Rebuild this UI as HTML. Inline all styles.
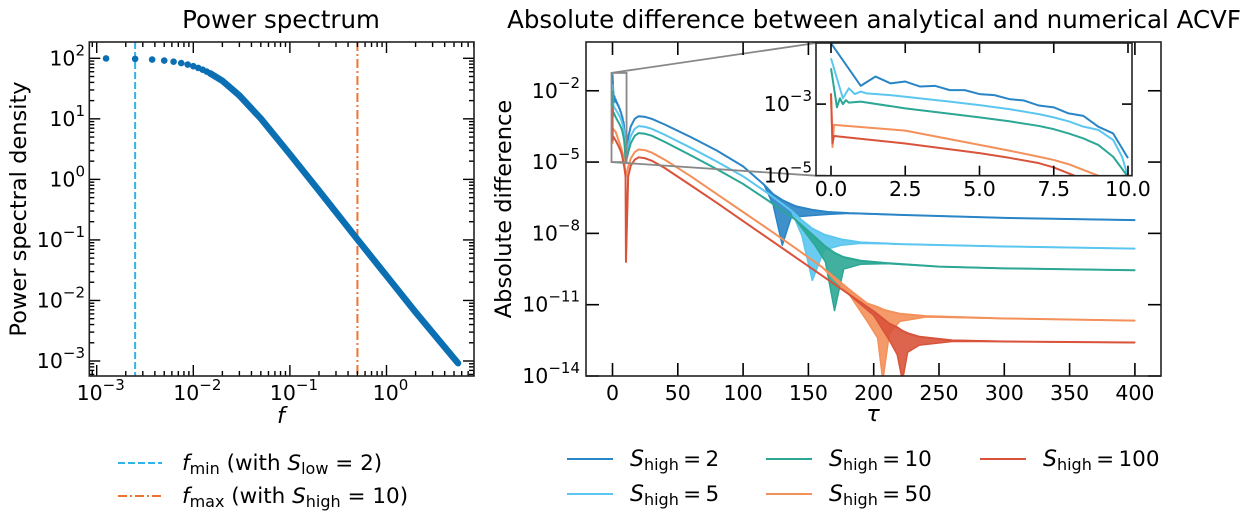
<!DOCTYPE html>
<html><head><meta charset="utf-8"><style>
body{margin:0;background:#fff;}
svg{display:block;font-family:"DejaVu Sans","Liberation Sans",sans-serif;}
</style></head><body>
<svg id="fig" width="1258" height="531" viewBox="0 0 1258 531" xmlns="http://www.w3.org/2000/svg">
<defs>
<clipPath id="clipL"><rect x="89.3" y="42" width="384.7" height="334"/></clipPath>
<clipPath id="clipR"><rect x="586" y="42" width="575" height="334"/></clipPath>
<clipPath id="clipI"><rect x="816" y="43" width="316" height="132.7"/></clipPath>
</defs>
<rect x="0" y="0" width="1258" height="531" fill="#fff"/>
<text x="281" y="28" font-size="24.5" text-anchor="middle">Power spectrum</text>
<text x="874" y="28" font-size="24.5" text-anchor="middle">Absolute difference between analytical and numerical ACVF</text>
<g id="L"></g>
<g id="R"></g>
<g id="I"></g>
<g id="LEG"></g>
</svg>
<script>
// ---------- Left chart data ----------
const freqDots=[0.00125,0.0025,0.00375,0.005,0.00625,0.0075,0.00875,0.01,0.01125,0.0125,0.01375,0.015];
const psdDots=[99.4,97.8,95.2,91.8,87.8,83.4,78.8,74,69.3,64.8,60.4,56.2];
const freqLine=[0.015,0.02,0.03,0.05,0.1,0.2,0.5,1,2,5.5];
const psdLine=[56.2,42.5,24.3,10.1,2.6,0.65,0.102,0.0256,0.0064,0.00092];
const fMin=0.0025, fMax=0.5;
const leftXTickExp=[-3,-2,-1,0];
const leftYTickExp=[2,1,0,-1,-2,-3];
// ---------- Right chart data (log10 of absolute difference) ----------
const seriesNames=["S2","S5","S10","S50","S100"];
const seriesLabels=["2","5","10","50","100"];
// inset region (tau 0..10)
const inTauS2=[0,1,1.5,2,2.5,3,3.5,4,4.5,5,5.5,6,6.5,7,7.5,8,8.5,9,9.5,10];
const inLogS2=[-1.30,-2.49,-2.23,-2.42,-2.37,-2.51,-2.49,-2.61,-2.61,-2.72,-2.75,-2.86,-2.90,-3.04,-3.09,-3.26,-3.33,-3.63,-3.82,-4.51];
const inTauS5=[0,0.4,0.6,0.8,1,1.2,2,3,4,5,6,7,7.5,8,8.5,9,9.5,9.8,10];
const inLogS5=[-1.72,-2.84,-2.56,-2.72,-2.65,-2.70,-2.75,-2.84,-2.93,-3.03,-3.14,-3.28,-3.37,-3.48,-3.63,-3.72,-4.0,-4.47,-5.03];
const inTauS10=[0,0.2,0.3,0.4,0.5,0.6,1,2.5,4,5,6,7,7.5,8,8.5,9,9.5,10];
const inLogS10=[-2.0,-3.09,-2.84,-3.0,-2.89,-2.96,-2.93,-3.12,-3.27,-3.37,-3.48,-3.61,-3.70,-3.82,-3.96,-4.14,-4.47,-5.03];
const inTauS50=[0,0.05,0.1,2.5,5,6,7,7.5,8,9,10];
const inLogS50=[-2.70,-4.2,-3.58,-3.74,-4.14,-4.3,-4.47,-4.56,-4.68,-5.0,-5.5];
const inTauS100=[0,0.05,0.1,2.5,5,6,7,7.5,8.2,9,10];
const inLogS100=[-2.70,-4.10,-3.89,-4.10,-4.37,-4.5,-4.65,-4.77,-5.0,-5.2,-5.6];
// main region (tau >= 10): upper envelope (hi) and lower envelope of oscillations (lo)
const tauS2=[10.3,12,14,17,20,25,30,40,60,80,100,116,123,130,137,141,153,165,181,220,300,400];
const hiS2=[-5.0,-3.95,-3.5,-3.18,-3.07,-3.1,-3.18,-3.42,-3.95,-4.52,-5.18,-5.95,-6.35,-6.6,-6.78,-6.87,-7.01,-7.1,-7.15,-7.22,-7.35,-7.44];
const loS2=[-5.0,-3.95,-3.5,-3.18,-3.07,-3.1,-3.18,-3.42,-3.95,-4.52,-5.18,-5.95,-6.8,-8.5,-7.3,-7.3,-7.25,-7.2,-7.16,-7.22,-7.35,-7.44];
const tauS5=[10.3,12,14,17,20,25,30,40,60,80,100,120,137,145,153,162,175,190,220,300,400];
const hiS5=[-5.0,-4.3,-3.9,-3.6,-3.49,-3.52,-3.6,-3.85,-4.4,-4.98,-5.6,-6.35,-7.05,-7.45,-7.8,-8.05,-8.25,-8.38,-8.45,-8.55,-8.64];
const loS5=[-5.0,-4.3,-3.9,-3.6,-3.49,-3.52,-3.6,-3.85,-4.4,-4.98,-5.6,-6.35,-7.05,-8.1,-9.98,-8.7,-8.5,-8.42,-8.45,-8.55,-8.64];
const tauS10=[10.3,12,14,17,20,25,30,40,60,80,100,120,140,155,163,170,177,190,210,250,300,400];
const hiS10=[-5.0,-4.6,-4.2,-3.9,-3.78,-3.81,-3.89,-4.15,-4.72,-5.3,-5.92,-6.65,-7.42,-8.15,-8.55,-8.82,-9.0,-9.15,-9.25,-9.4,-9.47,-9.55];
const loS10=[-5.0,-4.6,-4.2,-3.9,-3.78,-3.81,-3.89,-4.15,-4.72,-5.3,-5.92,-6.65,-7.42,-8.5,-9.2,-11.25,-9.5,-9.3,-9.27,-9.4,-9.47,-9.55];
const tauS50=[10.3,12,14,17,20,25,30,40,60,80,100,120,140,160,181,195,203,207,212,220,240,300,400];
const hiS50=[-5.6,-5.2,-4.85,-4.58,-4.47,-4.5,-4.6,-4.9,-5.6,-6.35,-7.1,-7.85,-8.62,-9.4,-10.35,-10.95,-11.1,-11.2,-11.28,-11.38,-11.48,-11.58,-11.67];
const loS50=[-5.6,-5.2,-4.85,-4.58,-4.47,-4.5,-4.6,-4.9,-5.6,-6.35,-7.1,-7.85,-8.62,-9.4,-10.55,-11.7,-12.4,-14.2,-12.2,-11.7,-11.52,-11.58,-11.67];
const tauS100=[10.3,12,14,17,20,25,30,40,60,80,100,120,140,160,180,200,212,218,222,226,235,260,300,400];
const hiS100=[-9.2,-5.6,-5.15,-4.9,-4.8,-4.84,-4.94,-5.25,-5.98,-6.72,-7.48,-8.24,-9.0,-9.76,-10.52,-11.28,-11.8,-11.95,-12.1,-12.2,-12.35,-12.5,-12.55,-12.59];
const loS100=[-9.2,-5.6,-5.15,-4.9,-4.8,-4.84,-4.94,-5.25,-5.98,-6.72,-7.48,-8.24,-9.0,-9.76,-10.52,-11.45,-12.5,-13.1,-14.2,-13.0,-12.7,-12.55,-12.55,-12.59];
const rightXTicks=[0,50,100,150,200,250,300,350,400];
const rightYTickExp=[-14,-11,-8,-5,-2];
const insetXTicks=[0,2.5,5,7.5,10];
const insetYTickExp=[-5,-3];

const colors=["#2a85c6","#5bc6ef","#2ca795","#f4905a","#d9533a"];
const NS="http://www.w3.org/2000/svg";
function mk(tag,attrs,parent){const e=document.createElementNS(NS,tag);for(const k in attrs)e.setAttribute(k,attrs[k]);parent.appendChild(e);return e;}

// ---------- scales ----------
const Lx=f=>96.7+(Math.log10(f)+3)*96.6;
const Ly=p=>361-(Math.log10(p)+3)*60.54;
const Rx=t=>612.5+t*1.306;
const Ry=lg=>376-(lg+14)*23.77;
const Ix=t=>831+t*29.7;
const Iy=lg=>175.7-(lg+5)*35.8;

function pow10Label(parent,x,y,exp,anchor,name){
  const t=mk("text",{x:x,y:y,"font-size":20.5,"text-anchor":anchor,fill:"#000"},parent);
  
  
  t.appendChild(document.createTextNode("10"));
  const s=mk("tspan",{dy:-10,"font-size":15},t);
  s.textContent=(exp<0?"\u2212":"")+Math.abs(exp);
  return t;
}

// ---------- LEFT PANEL ----------
const L=document.getElementById("L");
const Lbox={x0:89.3,x1:474,y0:42,y1:376};
const lPlot=mk("g",{"clip-path":"url(#clipL)"},L);
const vmin=mk("line",{x1:Lx(fMin),x2:Lx(fMin),y1:42,y2:376,stroke:"#2fb4ea","stroke-width":2,"stroke-dasharray":"7,3"},lPlot);


const vmax=mk("line",{x1:Lx(fMax),x2:Lx(fMax),y1:42,y2:376,stroke:"#f07234","stroke-width":2,"stroke-dasharray":"9,3,2,3"},lPlot);


const psdPath=mk("polyline",{points:freqLine.map((f,i)=>Lx(f)+","+Ly(psdLine[i])).join(" "),fill:"none",stroke:"#0a6fb3","stroke-width":6.5,"stroke-linecap":"round","stroke-linejoin":"round"},lPlot);


freqDots.forEach((f,i)=>{
  const c=mk("circle",{cx:Lx(f),cy:Ly(psdDots[i]),r:3.3,fill:"#0a6fb3"},lPlot);
  
  
});
function tk(parent,x1,y1,x2,y2,w){mk("line",{x1:x1,y1:y1,x2:x2,y2:y2,stroke:"#000","stroke-width":w||1.4},parent);}
const lt=mk("g",{},L);
for(let e=-4;e<=1;e++){for(let m=1;m<10;m++){const f=m*Math.pow(10,e);const x=Lx(f);if(x<Lbox.x0||x>Lbox.x1)continue;const len=m===1?11:5;
  tk(lt,x,Lbox.y1,x,Lbox.y1-len);tk(lt,x,Lbox.y0,x,Lbox.y0+len);}}
for(let e=-4;e<=2;e++){for(let m=1;m<10;m++){const p=m*Math.pow(10,e);const y=Ly(p);if(y<Lbox.y0||y>Lbox.y1)continue;const len=m===1?11:5;
  tk(lt,Lbox.x0,y,Lbox.x0+len,y);tk(lt,Lbox.x1,y,Lbox.x1-len,y);}}
leftXTickExp.forEach(e=>pow10Label(L,Lx(Math.pow(10,e))+4,400,e,"middle","x-tick-label"));
leftYTickExp.forEach(e=>pow10Label(L,85,Ly(Math.pow(10,e))+7,e,"end","y-tick-label"));
mk("rect",{x:Lbox.x0,y:Lbox.y0,width:Lbox.x1-Lbox.x0,height:Lbox.y1-Lbox.y0,fill:"none",stroke:"#222","stroke-width":1.6},L);
const lxl=mk("text",{x:281,y:423,"font-size":22.5,"font-style":"italic","text-anchor":"middle"},L);lxl.textContent="f";


const lyl=mk("text",{x:0,y:0,"font-size":22.5,"text-anchor":"middle",transform:"translate(26,209) rotate(-90)"},L);lyl.textContent="Power spectral density";



// ---------- RIGHT PANEL ----------
const R=document.getElementById("R");
const Rbox={x0:586,x1:1161,y0:42,y1:376};
const rPlot=mk("g",{"clip-path":"url(#clipR)"},R);
const mainT=[tauS2,tauS5,tauS10,tauS50,tauS100];
const mainHi=[hiS2,hiS5,hiS10,hiS50,hiS100];
const mainLo=[loS2,loS5,loS10,loS50,loS100];
const inT=[inTauS2,inTauS5,inTauS10,inTauS50,inTauS100];
const inL=[inLogS2,inLogS5,inLogS10,inLogS50,inLogS100];
for(let s=0;s<5;s++){
  const col=colors[s];
  const up=inT[s].map((t,i)=>[Rx(t),Ry(inL[s][i])]).concat(mainT[s].map((t,i)=>[Rx(t),Ry(mainHi[s][i])]));
  const lo=mainT[s].map((t,i)=>[Rx(t),Ry(mainLo[s][i])]);
  const hiPts=mainT[s].map((t,i)=>[Rx(t),Ry(mainHi[s][i])]);
  const poly=hiPts.concat(lo.slice().reverse());
  const band=mk("polygon",{points:poly.map(p=>p.join(",")).join(" "),fill:col,"fill-opacity":0.9,stroke:col,"stroke-width":1.5,"stroke-linejoin":"round"},rPlot);
  
  
  const ln=mk("polyline",{points:up.map(p=>p.join(",")).join(" "),fill:"none",stroke:col,"stroke-width":2,"stroke-linejoin":"round"},rPlot);
  
  
}
const ibx=mk("rect",{x:Rx(0)-1,y:Ry(-1.25),width:Rx(10)-Rx(0)+2,height:Ry(-5)-Ry(-1.25),fill:"none",stroke:"#888","stroke-width":1.8},R);


mk("line",{x1:Rx(0)-1,y1:Ry(-1.25),x2:816,y2:43,stroke:"#888","stroke-width":1.8},R);
mk("line",{x1:Rx(0)-1,y1:Ry(-5),x2:816,y2:175.7,stroke:"#888","stroke-width":1.8},R);
const rt=mk("g",{},R);
rightXTicks.forEach(t=>{const x=Rx(t);tk(rt,x,Rbox.y1,x,Rbox.y1-13,1.6);tk(rt,x,Rbox.y0,x,Rbox.y0+13,1.6);
  const l=mk("text",{x:x,y:400,"font-size":20.5,"text-anchor":"middle"},R);l.textContent=t;
  
  });
rightYTickExp.forEach(e=>{const y=Ry(e);tk(rt,Rbox.x0,y,Rbox.x0+13,y,1.6);tk(rt,Rbox.x1,y,Rbox.x1-13,y,1.6);
  pow10Label(R,580,y+7,e,"end","y-tick-label");});
mk("rect",{x:Rbox.x0,y:Rbox.y0,width:Rbox.x1-Rbox.x0,height:Rbox.y1-Rbox.y0,fill:"none",stroke:"#222","stroke-width":1.6},R);
const rxl=mk("text",{x:873,y:421,"font-size":22.5,"font-style":"italic","text-anchor":"middle"},R);rxl.textContent="\u03c4";


const ryl=mk("text",{x:0,y:0,"font-size":22.5,"text-anchor":"middle",transform:"translate(511,209) rotate(-90)"},R);ryl.textContent="Absolute difference";



// ---------- INSET ----------
const I=document.getElementById("I");
const Ib={x0:816,x1:1132,y0:43,y1:175.7};
mk("rect",{x:Ib.x0,y:Ib.y0,width:Ib.x1-Ib.x0,height:Ib.y1-Ib.y0,fill:"#fff"},I);
const iPlot=mk("g",{"clip-path":"url(#clipI)"},I);
for(let s=0;s<5;s++){
  const ln=mk("polyline",{points:inT[s].map((t,i)=>Ix(t)+","+Iy(inL[s][i])).join(" "),fill:"none",stroke:colors[s],"stroke-width":2,"stroke-linejoin":"round"},iPlot);
  
  
}
insetXTicks.forEach(t=>{const x=Ix(t);tk(I,x,Ib.y1,x,Ib.y1-10,1.6);tk(I,x,Ib.y0,x,Ib.y0+10,1.6);
  const l=mk("text",{x:x,y:196,"font-size":20.5,"text-anchor":"middle"},I);l.textContent=t.toFixed(1);
  
  });
insetYTickExp.forEach(e=>{const y=Iy(e);tk(I,Ib.x0,y,Ib.x0+10,y,1.6);tk(I,Ib.x1,y,Ib.x1-10,y,1.6);
  pow10Label(I,812,y+7,e,"end","inset-y-tick-label");});
mk("rect",{x:Ib.x0,y:Ib.y0,width:Ib.x1-Ib.x0,height:Ib.y1-Ib.y0,fill:"none",stroke:"#222","stroke-width":1.6},I);

// ---------- LEGENDS ----------
const G=document.getElementById("LEG");
function legText(x,y,parts,name){
  const t=mk("text",{x:x,y:y,"font-size":21.5},G);
  
  
  parts.forEach(p=>{const s=mk("tspan",p.a||{},t);s.textContent=p.s;});
  return t;
}
const l1=mk("line",{x1:118,y1:463,x2:162,y2:463,stroke:"#2fb4ea","stroke-width":2,"stroke-dasharray":"7,3"},G);


legText(182,470,[{s:"f",a:{"font-style":"italic"}},{s:"min",a:{dy:4,"font-size":16}},{s:" (with ",a:{dy:-4}},{s:"S",a:{"font-style":"italic"}},{s:"low",a:{dy:4,"font-size":16}},{s:" = 2)",a:{dy:-4}}],"legend-fmin");
const l2=mk("line",{x1:118,y1:496,x2:162,y2:496,stroke:"#f07234","stroke-width":2,"stroke-dasharray":"9,3,2,3"},G);


legText(182,503,[{s:"f",a:{"font-style":"italic"}},{s:"max",a:{dy:4,"font-size":16}},{s:" (with ",a:{dy:-4}},{s:"S",a:{"font-style":"italic"}},{s:"high",a:{dy:4,"font-size":16}},{s:" = 10)",a:{dy:-4}}],"legend-fmax");
const legPos=[[567,459],[567,494],[766,459],[766,494],[980,459]];
for(let s=0;s<5;s++){
  const [x,y]=legPos[s];
  const sw=mk("line",{x1:x,y1:y,x2:x+46,y2:y,stroke:colors[s],"stroke-width":2},G);
  
  
  legText(x+63,y+7,[{s:"S",a:{"font-style":"italic","font-size":22}},{s:"high",a:{dy:4,"font-size":16}},{s:"\u2009=\u2009"+seriesLabels[s],a:{dy:-4}}],"legend-entry-"+seriesNames[s]);
}
</script>
</body></html>
